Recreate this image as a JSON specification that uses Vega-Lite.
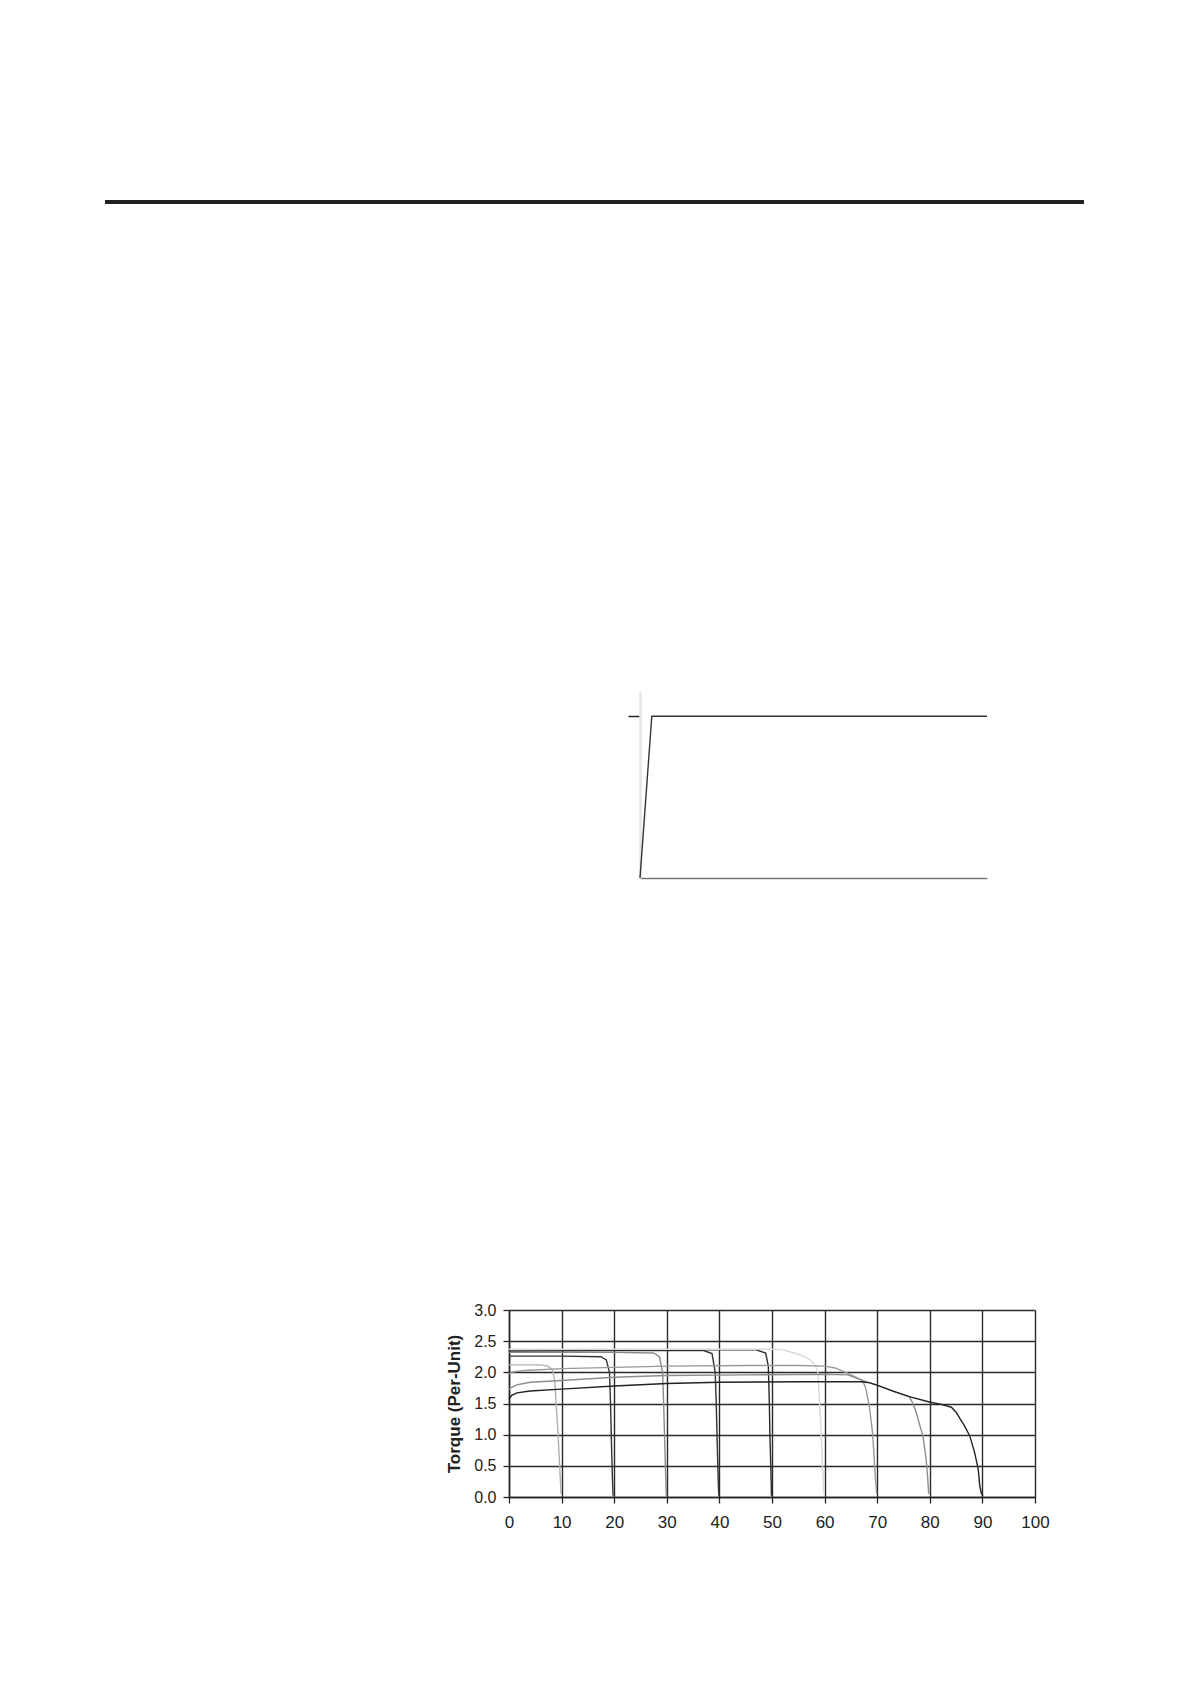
{
  "$schema": "https://vega.github.io/schema/vega-lite/v6.json",
  "padding": {"left": 105, "top": 200, "right": 5, "bottom": 5},
  "background": "white",
  "config": {"view": {"stroke": null}, "font": "Liberation Sans"},
  "datasets": {
    "rule": [{"a": 0, "b": 1}],
    "step": [
      {"t": 0, "v": 0},
      {"t": 3.4, "v": 1},
      {"t": 100, "v": 1}
    ],
    "torque": [
      {"curve": "f10", "speed": 0, "torque": 2.12},
      {"curve": "f10", "speed": 6, "torque": 2.12},
      {"curve": "f10", "speed": 7.4, "torque": 2.1},
      {"curve": "f10", "speed": 8.3, "torque": 2.04},
      {"curve": "f10", "speed": 8.7, "torque": 1.85},
      {"curve": "f10", "speed": 9.0, "torque": 1.45},
      {"curve": "f10", "speed": 9.3, "torque": 1.05},
      {"curve": "f10", "speed": 9.6, "torque": 0.55},
      {"curve": "f10", "speed": 9.9, "torque": 0.05},
      {"curve": "f20", "speed": 0, "torque": 2.26},
      {"curve": "f20", "speed": 10, "torque": 2.26},
      {"curve": "f20", "speed": 17.5, "torque": 2.25},
      {"curve": "f20", "speed": 18.5, "torque": 2.2},
      {"curve": "f20", "speed": 19.1, "torque": 2.0},
      {"curve": "f20", "speed": 19.3, "torque": 1.5},
      {"curve": "f20", "speed": 19.5, "torque": 0.8},
      {"curve": "f20", "speed": 19.7, "torque": 0.2},
      {"curve": "f20", "speed": 19.8, "torque": 0.02},
      {"curve": "f30", "speed": 0, "torque": 2.32},
      {"curve": "f30", "speed": 20, "torque": 2.32},
      {"curve": "f30", "speed": 27.5, "torque": 2.31},
      {"curve": "f30", "speed": 28.6, "torque": 2.25},
      {"curve": "f30", "speed": 29.2, "torque": 2.0},
      {"curve": "f30", "speed": 29.4, "torque": 1.5},
      {"curve": "f30", "speed": 29.6, "torque": 0.9},
      {"curve": "f30", "speed": 29.8, "torque": 0.3},
      {"curve": "f30", "speed": 29.9, "torque": 0.02},
      {"curve": "f40", "speed": 0, "torque": 2.34},
      {"curve": "f40", "speed": 20, "torque": 2.35},
      {"curve": "f40", "speed": 37, "torque": 2.35},
      {"curve": "f40", "speed": 38.6, "torque": 2.3},
      {"curve": "f40", "speed": 39.2, "torque": 2.0},
      {"curve": "f40", "speed": 39.4, "torque": 1.5},
      {"curve": "f40", "speed": 39.6, "torque": 0.8},
      {"curve": "f40", "speed": 39.8, "torque": 0.2},
      {"curve": "f40", "speed": 39.9, "torque": 0.02},
      {"curve": "f50", "speed": 0, "torque": 2.36},
      {"curve": "f50", "speed": 25, "torque": 2.36},
      {"curve": "f50", "speed": 47, "torque": 2.36},
      {"curve": "f50", "speed": 48.8, "torque": 2.31},
      {"curve": "f50", "speed": 49.3, "torque": 2.1},
      {"curve": "f50", "speed": 49.5, "torque": 1.5},
      {"curve": "f50", "speed": 49.6, "torque": 1.0},
      {"curve": "f50", "speed": 49.8, "torque": 0.4},
      {"curve": "f50", "speed": 49.9, "torque": 0.02},
      {"curve": "f60", "speed": 0, "torque": 2.37},
      {"curve": "f60", "speed": 30, "torque": 2.37},
      {"curve": "f60", "speed": 50, "torque": 2.37},
      {"curve": "f60", "speed": 52, "torque": 2.36},
      {"curve": "f60", "speed": 54.2, "torque": 2.31},
      {"curve": "f60", "speed": 56, "torque": 2.26},
      {"curve": "f60", "speed": 57.4, "torque": 2.19},
      {"curve": "f60", "speed": 58.3, "torque": 2.1},
      {"curve": "f60", "speed": 58.7, "torque": 2.0},
      {"curve": "f60", "speed": 59.0, "torque": 1.6},
      {"curve": "f60", "speed": 59.3, "torque": 1.1},
      {"curve": "f60", "speed": 59.6, "torque": 0.5},
      {"curve": "f60", "speed": 59.9, "torque": 0.05},
      {"curve": "f70", "speed": 0, "torque": 1.98},
      {"curve": "f70", "speed": 1, "torque": 2.01},
      {"curve": "f70", "speed": 3, "torque": 2.03},
      {"curve": "f70", "speed": 10, "torque": 2.06},
      {"curve": "f70", "speed": 20, "torque": 2.08},
      {"curve": "f70", "speed": 30, "torque": 2.1},
      {"curve": "f70", "speed": 45, "torque": 2.11},
      {"curve": "f70", "speed": 55, "torque": 2.11},
      {"curve": "f70", "speed": 60, "torque": 2.1},
      {"curve": "f70", "speed": 62, "torque": 2.07},
      {"curve": "f70", "speed": 64, "torque": 2.0},
      {"curve": "f70", "speed": 66, "torque": 1.92},
      {"curve": "f70", "speed": 67.2, "torque": 1.87},
      {"curve": "f70", "speed": 67.8, "torque": 1.75},
      {"curve": "f70", "speed": 68.5, "torque": 1.46},
      {"curve": "f70", "speed": 69.1, "torque": 1.04},
      {"curve": "f70", "speed": 69.4, "torque": 0.66},
      {"curve": "f70", "speed": 69.7, "torque": 0.25},
      {"curve": "f70", "speed": 69.9, "torque": 0.05},
      {"curve": "f80", "speed": 0, "torque": 1.72},
      {"curve": "f80", "speed": 0.5, "torque": 1.76},
      {"curve": "f80", "speed": 1.5, "torque": 1.8},
      {"curve": "f80", "speed": 4, "torque": 1.84},
      {"curve": "f80", "speed": 10, "torque": 1.87},
      {"curve": "f80", "speed": 20, "torque": 1.92},
      {"curve": "f80", "speed": 30, "torque": 1.95},
      {"curve": "f80", "speed": 45, "torque": 1.96},
      {"curve": "f80", "speed": 60, "torque": 1.97},
      {"curve": "f80", "speed": 64.4, "torque": 1.96},
      {"curve": "f80", "speed": 67.2, "torque": 1.87},
      {"curve": "f80", "speed": 70.1, "torque": 1.79},
      {"curve": "f80", "speed": 73, "torque": 1.7},
      {"curve": "f80", "speed": 76.1, "torque": 1.61},
      {"curve": "f80", "speed": 76.8, "torque": 1.5},
      {"curve": "f80", "speed": 77.4, "torque": 1.36},
      {"curve": "f80", "speed": 78.1, "torque": 1.15},
      {"curve": "f80", "speed": 78.7, "torque": 0.98},
      {"curve": "f80", "speed": 79.3, "torque": 0.61},
      {"curve": "f80", "speed": 79.6, "torque": 0.3},
      {"curve": "f80", "speed": 79.8, "torque": 0.05},
      {"curve": "f90", "speed": 0, "torque": 1.57},
      {"curve": "f90", "speed": 0.5, "torque": 1.63},
      {"curve": "f90", "speed": 1.5, "torque": 1.67},
      {"curve": "f90", "speed": 4, "torque": 1.7},
      {"curve": "f90", "speed": 10, "torque": 1.73},
      {"curve": "f90", "speed": 20, "torque": 1.78},
      {"curve": "f90", "speed": 30, "torque": 1.82},
      {"curve": "f90", "speed": 40, "torque": 1.84},
      {"curve": "f90", "speed": 55, "torque": 1.85},
      {"curve": "f90", "speed": 67, "torque": 1.85},
      {"curve": "f90", "speed": 68.6, "torque": 1.83},
      {"curve": "f90", "speed": 70.1, "torque": 1.79},
      {"curve": "f90", "speed": 73, "torque": 1.7},
      {"curve": "f90", "speed": 76.1, "torque": 1.61},
      {"curve": "f90", "speed": 80.1, "torque": 1.52},
      {"curve": "f90", "speed": 82, "torque": 1.49},
      {"curve": "f90", "speed": 84.1, "torque": 1.44},
      {"curve": "f90", "speed": 85, "torque": 1.36},
      {"curve": "f90", "speed": 85.8, "torque": 1.25},
      {"curve": "f90", "speed": 86.6, "torque": 1.14},
      {"curve": "f90", "speed": 87.6, "torque": 0.98},
      {"curve": "f90", "speed": 88.5, "torque": 0.72},
      {"curve": "f90", "speed": 89.2, "torque": 0.45},
      {"curve": "f90", "speed": 89.5, "torque": 0.18},
      {"curve": "f90", "speed": 89.8, "torque": 0.06},
      {"curve": "f90", "speed": 90.1, "torque": 0.02}
    ]
  },
  "spacing": 488,
  "vconcat": [
    {
      "width": 979,
      "height": 4,
      "data": {"name": "rule"},
      "mark": {"type": "rect", "color": "#222222"},
      "encoding": {
        "x": {"field": "a", "type": "quantitative", "scale": {"domain": [0, 1]}, "axis": null},
        "x2": {"field": "b"}
      }
    },
    {
      "spacing": 421,
      "vconcat": [
        {
          "spacing": 0,
          "hconcat": [
            {"width": 522, "height": 10, "data": {"values": []}, "mark": "point"},
            {
              "width": 347,
              "height": 186,
              "data": {"name": "step"},
              "mark": {"type": "line", "color": "#333333", "strokeWidth": 1.4},
              "encoding": {
                "x": {
                  "field": "t", "type": "quantitative",
                  "scale": {"domain": [0, 100], "nice": false},
                  "axis": {"title": null, "labels": false, "ticks": false, "grid": false, "domainColor": "#777777", "domainWidth": 1.5}
                },
                "y": {
                  "field": "v", "type": "quantitative",
                  "scale": {"domain": [0, 1.15], "nice": false},
                  "axis": {"title": null, "labels": false, "grid": false, "values": [1], "tickSize": 12, "tickColor": "#222222", "tickWidth": 1.5, "domainColor": "#e6e6e6", "domainWidth": 2.5}
                }
              }
            }
          ]
        },
        {
          "spacing": 0,
          "hconcat": [
            {"width": 340, "height": 10, "data": {"values": []}, "mark": "point"},
            {
              "width": 526,
              "height": 187,
              "data": {"name": "torque"},
              "mark": {"type": "line", "strokeWidth": 1.4},
              "encoding": {
                "x": {
                  "field": "speed", "type": "quantitative",
                  "scale": {"domain": [0, 100], "nice": false},
                  "axis": {
                    "title": null, "values": [0, 10, 20, 30, 40, 50, 60, 70, 80, 90, 100],
                    "grid": true, "gridColor": "#2a2a2a", "gridWidth": 1.4,
                    "domainColor": "#222222", "domainWidth": 1.5,
                    "tickColor": "#222222", "tickWidth": 1.3, "tickSize": 6,
                    "labelFontSize": 17, "labelColor": "#222222", "labelPadding": 11, "labelFlush": false
                  }
                },
                "y": {
                  "field": "torque", "type": "quantitative",
                  "scale": {"domain": [0, 3], "nice": false},
                  "axis": {
                    "title": "Torque (Per-Unit)", "titleFontSize": 17, "titleFontWeight": "bold", "titleColor": "#222222", "titlePadding": 10,
                    "values": [0, 0.5, 1, 1.5, 2, 2.5, 3], "format": ".1f",
                    "grid": true, "gridColor": "#2a2a2a", "gridWidth": 1.4,
                    "domainColor": "#222222", "domainWidth": 1.5,
                    "tickColor": "#222222", "tickWidth": 1.3, "tickSize": 6,
                    "labelFontSize": 16, "labelColor": "#222222", "labelPadding": 7, "labelFlush": false
                  }
                },
                "color": {
                  "field": "curve", "type": "nominal", "legend": null,
                  "scale": {
                    "domain": ["f10", "f20", "f30", "f40", "f50", "f60", "f70", "f80", "f90"],
                    "range": ["#b0b0b0", "#333333", "#8a8a8a", "#333333", "#2a2a2a", "#d8d8d8", "#999999", "#8c8c8c", "#222222"]
                  }
                }
              }
            }
          ]
        }
      ]
    }
  ]
}
